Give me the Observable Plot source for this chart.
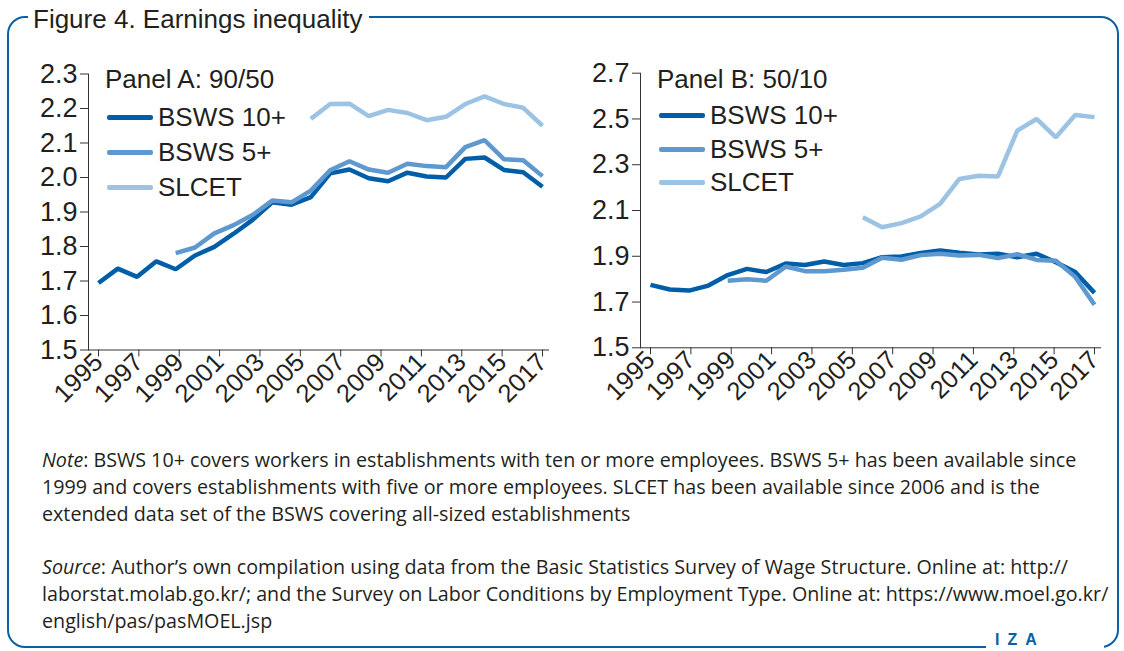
<!DOCTYPE html>
<html>
<head>
<meta charset="utf-8">
<script src="https://cdn.jsdelivr.net/npm/d3@7"></script>
<script src="https://cdn.jsdelivr.net/npm/@observablehq/plot@0.6"></script>
<style>
  html, body { margin: 0; padding: 0; background: #fff; }
  #page { position: relative; width: 1124px; height: 651px; overflow: hidden; font-family: "Liberation Sans", Arial, sans-serif; color: #231f20; }
  #frame { position: absolute; left: 7px; top: 16px; width: 1112px; height: 632px; box-sizing: border-box; border: 2.5px solid #0b5fa5; border-radius: 18px; }
  #title { position: absolute; left: 28px; top: 4px; padding: 0 6px 0 5px; background: #fff; font-size: 26px; line-height: 30px; color: #231f20; }
  #iza { position: absolute; left: 986px; top: 630px; width: 118px; height: 22px; background: #fff; }
  #iza span { position: absolute; left: 9px; top: 1px; font-size: 16px; font-weight: bold; letter-spacing: 8px; color: #0b5fa5; }
  .panel { position: absolute; top: 40px; }
  .legend { position: absolute; font-size: 26px; color: #231f20; }
  .legend .head { position: absolute; white-space: nowrap; }
  .legend .row { position: absolute; white-space: nowrap; display: flex; align-items: center; }
  .legend .sw { width: 46px; height: 5px; border-radius: 2px; margin-right: 5px; }
  #notes { position: absolute; left: 42px; top: 446px; width: 1075px; font-family: "Open Sans", "Liberation Sans", sans-serif; font-size: 19.7px; line-height: 27px; color: #231f20; }
  #notes p { margin: 0 0 26px 0; white-space: nowrap; }
</style>
</head>
<body>
<div id="page">
  <div id="frame"></div>
  <div id="title">Figure 4. Earnings inequality</div>
  <div id="panelA" class="panel" style="left:0px"></div>
  <div id="panelB" class="panel" style="left:552px"></div>
  <div id="legendA" class="legend" style="left:105px; top:0px"></div>
  <div id="legendB" class="legend" style="left:657px; top:0px"></div>
  <div id="notes"></div>
  <div id="iza"><span>IZA</span></div>
</div>
<script>
// ---- data ----
const years = [1995, 1996, 1997, 1998, 1999, 2000, 2001, 2002, 2003, 2004, 2005, 2006,
               2007, 2008, 2009, 2010, 2011, 2012, 2013, 2014, 2015, 2016, 2017, 2018];
const seriesNames = ["BSWS 10+", "BSWS 5+", "SLCET"];
const seriesColors = ["#005ea8", "#5e98ce", "#9dc3e4"];
const seriesStart = [1995, 1999, 2006];

// Panel A: 90/50
const a10 = [1.694, 1.736, 1.712, 1.757, 1.734, 1.774, 1.799, 1.837, 1.878, 1.928, 1.921, 1.943,
             2.012, 2.023, 1.998, 1.989, 2.014, 2.003, 2.000, 2.054, 2.058, 2.022, 2.015, 1.973];
const a5 = [1.781, 1.797, 1.838, 1.862, 1.892, 1.933, 1.928, 1.962,
            2.021, 2.047, 2.023, 2.014, 2.040, 2.033, 2.030, 2.088, 2.108, 2.053, 2.050, 2.004];
const aSL = [2.170, 2.213, 2.214, 2.178, 2.196, 2.187, 2.166, 2.176, 2.213, 2.235, 2.213, 2.202, 2.150];

// Panel B: 50/10
const b10 = [1.775, 1.755, 1.750, 1.772, 1.818, 1.845, 1.831, 1.868, 1.862, 1.877, 1.862, 1.870,
             1.896, 1.899, 1.914, 1.925, 1.915, 1.908, 1.911, 1.896, 1.911, 1.874, 1.831, 1.740];
const b5 = [1.793, 1.800, 1.793, 1.855, 1.835, 1.835, 1.841, 1.850,
            1.894, 1.885, 1.905, 1.911, 1.903, 1.906, 1.892, 1.909, 1.884, 1.880, 1.810, 1.688];
const bSL = [2.071, 2.027, 2.045, 2.074, 2.129, 2.238, 2.252, 2.249, 2.449, 2.500, 2.420, 2.517, 2.508];

const xTickLabels = ["1995", "1997", "1999", "2001", "2003", "2005", "2007", "2009", "2011", "2013", "2015", "2017"];
const yTicksA = [1.5, 1.6, 1.7, 1.8, 1.9, 2.0, 2.1, 2.2, 2.3];
const yTicksB = [1.5, 1.7, 1.9, 2.1, 2.3, 2.5, 2.7];
const panelTitles = ["Panel A: 90/50", "Panel B: 50/10"];

// ---- build ----
function rowsFor(lists) {
  const out = [];
  lists.forEach((vals, s) => {
    const start = years.indexOf(seriesStart[s]);
    vals.forEach((v, i) => out.push({series: seriesNames[s], year: years[start + i], value: v}));
  });
  return out;
}

// tick labels are spread evenly over the full span of the data, as in the original
const x0 = years[0], x1 = years[years.length - 1];
const tickPos = xTickLabels.map((_, i) => x0 + i * (x1 - x0) / (xTickLabels.length - 1));
const tickLabelAt = d => xTickLabels[Math.round((d - x0) * (xTickLabels.length - 1) / (x1 - x0))];

const FONT = '"Liberation Sans", Arial, sans-serif';

function panel(rows, yTicks, marginTop, marginBottom) {
  return Plot.plot({
    width: 560,
    height: 400,
    marginLeft: 88,
    marginRight: 12,
    marginTop,
    marginBottom,
    style: {fontFamily: FONT, color: "#231f20", background: "transparent", overflow: "visible"},
    x: {domain: [x0, x1], insetLeft: 10, insetRight: 6},
    y: {domain: [yTicks[0], yTicks[yTicks.length - 1]]},
    color: {domain: seriesNames, range: seriesColors},
    marks: [
      Plot.axisY({ticks: yTicks, tickFormat: d3.format(".1f"), tickSize: 8, tickPadding: 3,
                  fontSize: 27, stroke: "#333", fill: "#231f20", label: null}),
      Plot.axisX({ticks: tickPos, tickFormat: tickLabelAt, tickRotate: -45, tickSize: 7, tickPadding: 1,
                  fontSize: 25.5, stroke: "#333", fill: "#231f20", label: null}),
      Plot.frame({anchor: "left", stroke: "#333"}),
      Plot.frame({anchor: "bottom", stroke: "#333"}),
      Plot.line(rows, {x: "year", y: "value", z: "series", stroke: "series",
                       strokeWidth: 4.5, strokeLinejoin: "miter", strokeLinecap: "butt"})
    ]
  });
}

document.getElementById("panelA").appendChild(panel(rowsFor([a10, a5, aSL]), yTicksA, 33.5, 90.5));
document.getElementById("panelB").appendChild(panel(rowsFor([b10, b5, bSL]), yTicksB, 32.7, 92.7));

function legend(el, title, rowYs, headY) {
  const head = document.createElement("div");
  head.className = "head";
  head.textContent = title;
  head.style.top = (headY - 15) + "px";
  head.style.left = "0px";
  el.appendChild(head);
  seriesNames.forEach((name, i) => {
    const r = document.createElement("div");
    r.className = "row";
    r.style.top = (rowYs[i] - 15) + "px";
    r.style.left = "2px";
    r.style.height = "30px";
    const sw = document.createElement("div");
    sw.className = "sw";
    sw.style.background = seriesColors[i];
    const t = document.createElement("span");
    t.textContent = name;
    r.appendChild(sw);
    r.appendChild(t);
    el.appendChild(r);
  });
}
legend(document.getElementById("legendA"), panelTitles[0], [117, 152, 187], 79);
legend(document.getElementById("legendB"), panelTitles[1], [115, 149, 182], 79);

const noteLines = [
  "BSWS 10+ covers workers in establishments with ten or more employees. BSWS 5+ has been available since",
  "1999 and covers establishments with five or more employees. SLCET has been available since 2006 and is the",
  "extended data set of the BSWS covering all-sized establishments"
];
const sourceLines = [
  "Author\u2019s own compilation using data from the Basic Statistics Survey of Wage Structure. Online at: http://",
  "laborstat.molab.go.kr/; and the Survey on Labor Conditions by Employment Type. Online at: https://www.moel.go.kr/",
  "english/pas/pasMOEL.jsp"
];
function para(label, lines) {
  const p = document.createElement("p");
  const em = document.createElement("i");
  em.textContent = label;
  p.appendChild(em);
  lines.forEach((l, i) => {
    if (i > 0) p.appendChild(document.createElement("br"));
    p.appendChild(document.createTextNode((i === 0 ? ": " : "") + l));
  });
  return p;
}
const notes = document.getElementById("notes");
notes.appendChild(para("Note", noteLines));
notes.appendChild(para("Source", sourceLines));
</script>
</body>
</html>
